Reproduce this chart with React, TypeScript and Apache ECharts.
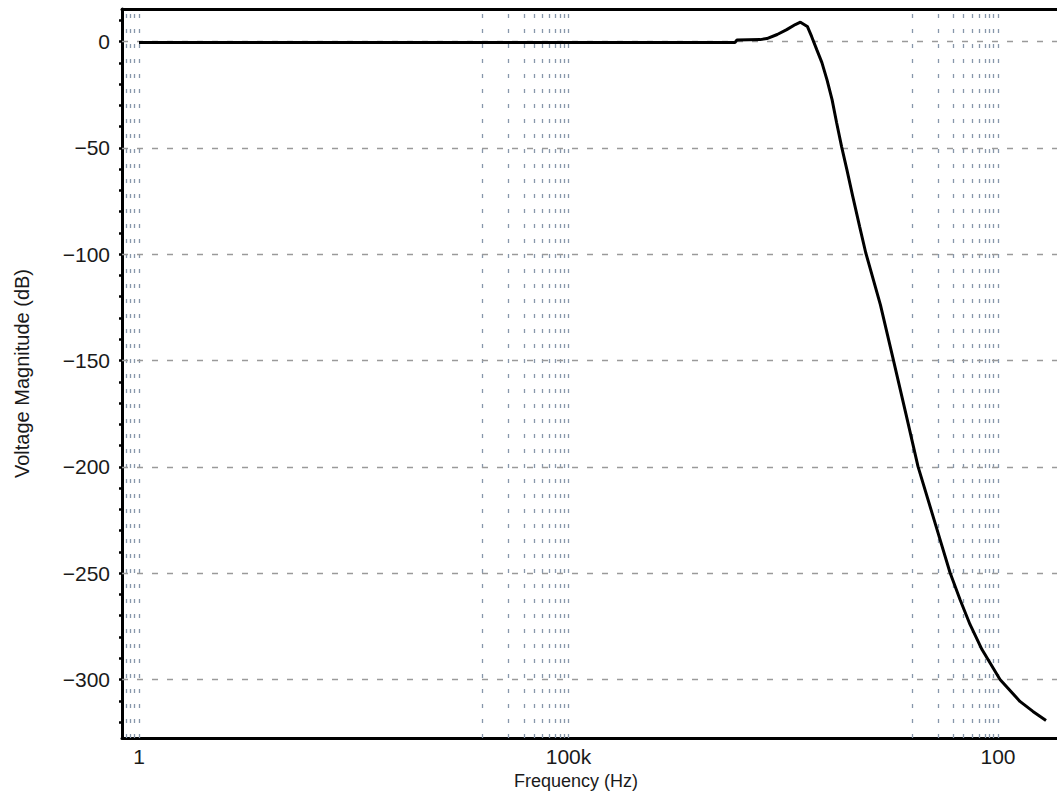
import { useEffect, useRef } from "react";
import * as echarts from "echarts";

// Frequency response (frequency in Hz, magnitude in dB)
const freqHz = [
  1, 8.7e6, 9.1e6, 1.7e7, 2.04e7, 2.69e7, 3.47e7, 4.37e7, 5.01e7, 6.03e7, 6.76e7,
  7.76e7, 8.91e7, 1.02e8, 1.17e8, 1.32e8, 1.51e8, 1.74e8, 2.04e8, 2.45e8, 2.88e8,
  4.27e8, 6.03e8, 8.51e8, 1.17e9, 1.8e9, 2.76e9, 3.61e9, 4.72e9, 6.51e9, 1.055e10,
  1.8e10, 2.55e10, 3.62e10,
];
const magnitudeDb = [
  -0.4, -0.4, 0.7, 0.9, 1.4, 3.3, 5.6, 8.0, 9.1, 7.1, 2.4,
  -3.8, -9.9, -17.9, -27.3, -38.1, -49.4, -60.2, -72.9, -87.0, -99.2,
  -123.7, -149.5, -175.4, -199.8, -224.8, -249.7, -262.4, -274.1, -285.9, -300.0,
  -310.3, -315.0, -319.3,
];

const xTickHz = [1, 1e5, 1e10];
const xTickLabels = ["1", "100k", "100"];
const yTickDb = [0, -50, -100, -150, -200, -250, -300];
const yMinorTickDb = [
  10, 0, -10, -20, -30, -40, -50, -60, -70, -80, -90, -100, -110, -120, -130, -140,
  -150, -160, -170, -180, -190, -200, -210, -220, -230, -240, -250, -260, -270, -280,
  -290, -300, -310, -320,
];
const xGridHz = [
  0.7, 0.8, 0.9, 1,
  1e4, 2e4, 3e4, 4e4, 5e4, 6e4, 7e4, 8e4, 9e4, 1e5,
  1e9, 2e9, 3e9, 4e9, 5e9, 6e9, 7e9, 8e9, 9e9, 1e10,
];

const X_MIN_HZ = 0.634;
const X_MAX_HZ = 4.86e10;
const Y_MIN = -327.5;
const Y_MAX = 15.3;

const FONT = "'Liberation Sans', Arial, sans-serif";

export default function App() {
  const ref = useRef<HTMLDivElement>(null);

  useEffect(() => {
    if (!ref.current) return;
    const chart = echarts.init(ref.current, undefined, { renderer: "svg" });
    const lg = (v: number) => Math.log10(v);
    const xMin = lg(X_MIN_HZ);
    const xMax = lg(X_MAX_HZ);

    const vLines = xGridHz.map((f) => ({
      xAxis: lg(f),
      lineStyle: { color: "#8797ab", width: 1.3, type: [4, 11] as any },
    }));
    const hLines = yTickDb.map((d) => ({
      yAxis: d,
      lineStyle: { color: "#9a9a9a", width: 1.3, type: [6, 9] as any },
    }));

    chart.setOption({
      animation: false,
      backgroundColor: "#ffffff",
      grid: { left: 122, right: 0, top: 9, bottom: 73, containLabel: false },
      xAxis: [
        {
          type: "value",
          min: xMin,
          max: xMax,
          position: "bottom",
          name: "Frequency (Hz)",
          nameLocation: "middle",
          nameGap: 31,
          nameTextStyle: {
            fontFamily: FONT,
            fontSize: 18,
            color: "#1a1a1a",
            padding: [0, 27, 0, 0],
          },
          axisLine: { onZero: false, lineStyle: { color: "#000", width: 3 } },
          axisTick: { show: false },
          splitLine: { show: false },
          axisLabel: {
            customValues: xTickHz.map(lg),
            margin: 8,
            fontFamily: FONT,
            fontSize: 21,
            color: "#1a1a1a",
            formatter: (v: number) => {
              const i = xTickHz.findIndex((f) => Math.abs(lg(f) - v) < 1e-6);
              return i >= 0 ? xTickLabels[i] : "";
            },
          },
        },
        {
          type: "value",
          min: xMin,
          max: xMax,
          position: "top",
          axisLine: { onZero: false, lineStyle: { color: "#000", width: 3 } },
          axisTick: { show: false },
          axisLabel: { show: false },
          splitLine: { show: false },
        },
      ],
      yAxis: {
        type: "value",
        min: Y_MIN,
        max: Y_MAX,
        name: "Voltage Magnitude (dB)",
        nameLocation: "middle",
        nameGap: 90,
        nameTextStyle: { fontFamily: FONT, fontSize: 20, color: "#1a1a1a" },
        axisLine: { onZero: false, lineStyle: { color: "#000", width: 3 } },
        axisTick: {
          show: true,
          customValues: yMinorTickDb,
          length: 3,
          lineStyle: { color: "#000", width: 2.5 },
        },
        splitLine: { show: false },
        axisLabel: {
          customValues: yTickDb,
          margin: 12,
          fontFamily: FONT,
          fontSize: 21,
          color: "#1a1a1a",
          formatter: (v: number) => (v < 0 ? "\u2212" + Math.abs(v) : String(v)),
        },
      },
      series: [
        {
          type: "line",
          xAxisIndex: 0,
          data: freqHz.map((f, i) => [lg(f), magnitudeDb[i]]),
          showSymbol: false,
          symbol: "none",
          lineStyle: { color: "#000", width: 3 },
          z: 5,
          markLine: {
            silent: true,
            symbol: ["none", "none"],
            label: { show: false },
            emphasis: { disabled: true },
            data: [...vLines, ...hLines],
          },
        },
      ],
    });

    return () => chart.dispose();
  }, []);

  return (
    <div
      ref={ref}
      style={{ position: "absolute", left: 0, top: 0, width: 1057, height: 811 }}
    />
  );
}
